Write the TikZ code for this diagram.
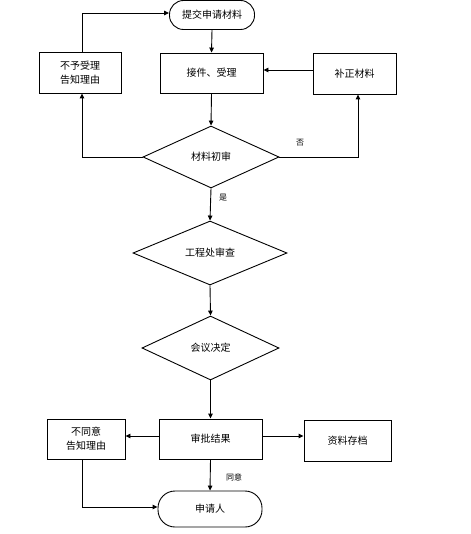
\documentclass[tikz,border=0pt]{standalone}
\usepackage{fontspec}
\setmainfont{Noto Sans CJK SC}
\usetikzlibrary{shapes.geometric,arrows.meta}
\tikzset{
  box/.style={draw, line width=0.9pt, inner sep=0pt, align=center, font=\fontsize{10}{14}\selectfont},
  term/.style={draw, line width=0.9pt, inner sep=0pt, rounded corners=14pt, font=\fontsize{10}{12}\selectfont},
  dia/.style={draw, diamond, line width=0.9pt, inner sep=0pt, font=\fontsize{10}{12}\selectfont},
  arr/.style={line width=0.9pt, -{Triangle[length=5pt,width=4.5pt]}},
  lbl/.style={font=\fontsize{8}{10}\selectfont, inner sep=0pt}
}
\begin{document}
\begin{tikzpicture}[x=1pt,y=-1pt]
\useasboundingbox (0,0) rectangle (470,534);
\node[term, minimum width=85pt, minimum height=29pt] (start) at (212,15) {提交申请材料};
\node[box, minimum width=103pt, minimum height=40pt] (accept) at (211.5,73) {接件、受理};
\node[box, minimum width=82pt, minimum height=41pt] (reject) at (80,72.5) {不予受理\\告知理由};
\node[box, minimum width=83pt, minimum height=41pt] (fix) at (354.5,73.5) {补正材料};
\node[dia, minimum width=136pt, minimum height=62pt] (check) at (211,157) {材料初审};
\node[dia, minimum width=154pt, minimum height=64pt] (eng) at (210,253) {工程处审查};
\node[dia, minimum width=137pt, minimum height=64pt] (meet) at (210.5,348) {会议决定};
\node[box, minimum width=103pt, minimum height=40pt] (result) at (210.5,439) {审批结果};
\node[box, minimum width=78pt, minimum height=40pt] (disagree) at (86,439) {不同意\\告知理由};
\node[box, minimum width=87pt, minimum height=41pt] (archive) at (347.5,440.5) {资料存档};
\node[term, minimum width=104pt, minimum height=36pt, rounded corners=17pt] (app) at (210,509) {申请人};
\coordinate (c1) at (82,13);
\coordinate (c2) at (82,157);
\coordinate (c3) at (358,157);
\coordinate (c4) at (82,507);

\draw[arr] (start.south) -- (accept.north);
\draw[arr] (accept.south) -- (check.north);
\draw[arr] (check.west) -- (c2) -- (reject.south -| c2);
\draw[arr] (reject.north -| c1) -- (c1) -- (start.west |- c1);
\draw[arr] (check.east) -- (c3) -- (fix.south -| c3);
\draw[arr] (fix.west |- 0,70) -- (accept.east |- 0,70);
\draw[arr] (check.south) -- (eng.north);
\draw[arr] (eng.south) -- (meet.north);
\draw[arr] (meet.south) -- (result.north);
\draw[arr] (result.west |- 0,436) -- (disagree.east |- 0,436);
\draw[arr] (result.east |- 0,436) -- (archive.west |- 0,436);
\draw[arr] (result.south) -- (app.north);
\draw[arr] (disagree.south -| c4) -- (c4) -- (app.west |- c4);

\node[lbl] (no) at (300,143) {否};
\node[lbl] (yes) at (223,198) {是};
\node[lbl] (agree) at (234,477) {同意};
\end{tikzpicture}
\end{document}
